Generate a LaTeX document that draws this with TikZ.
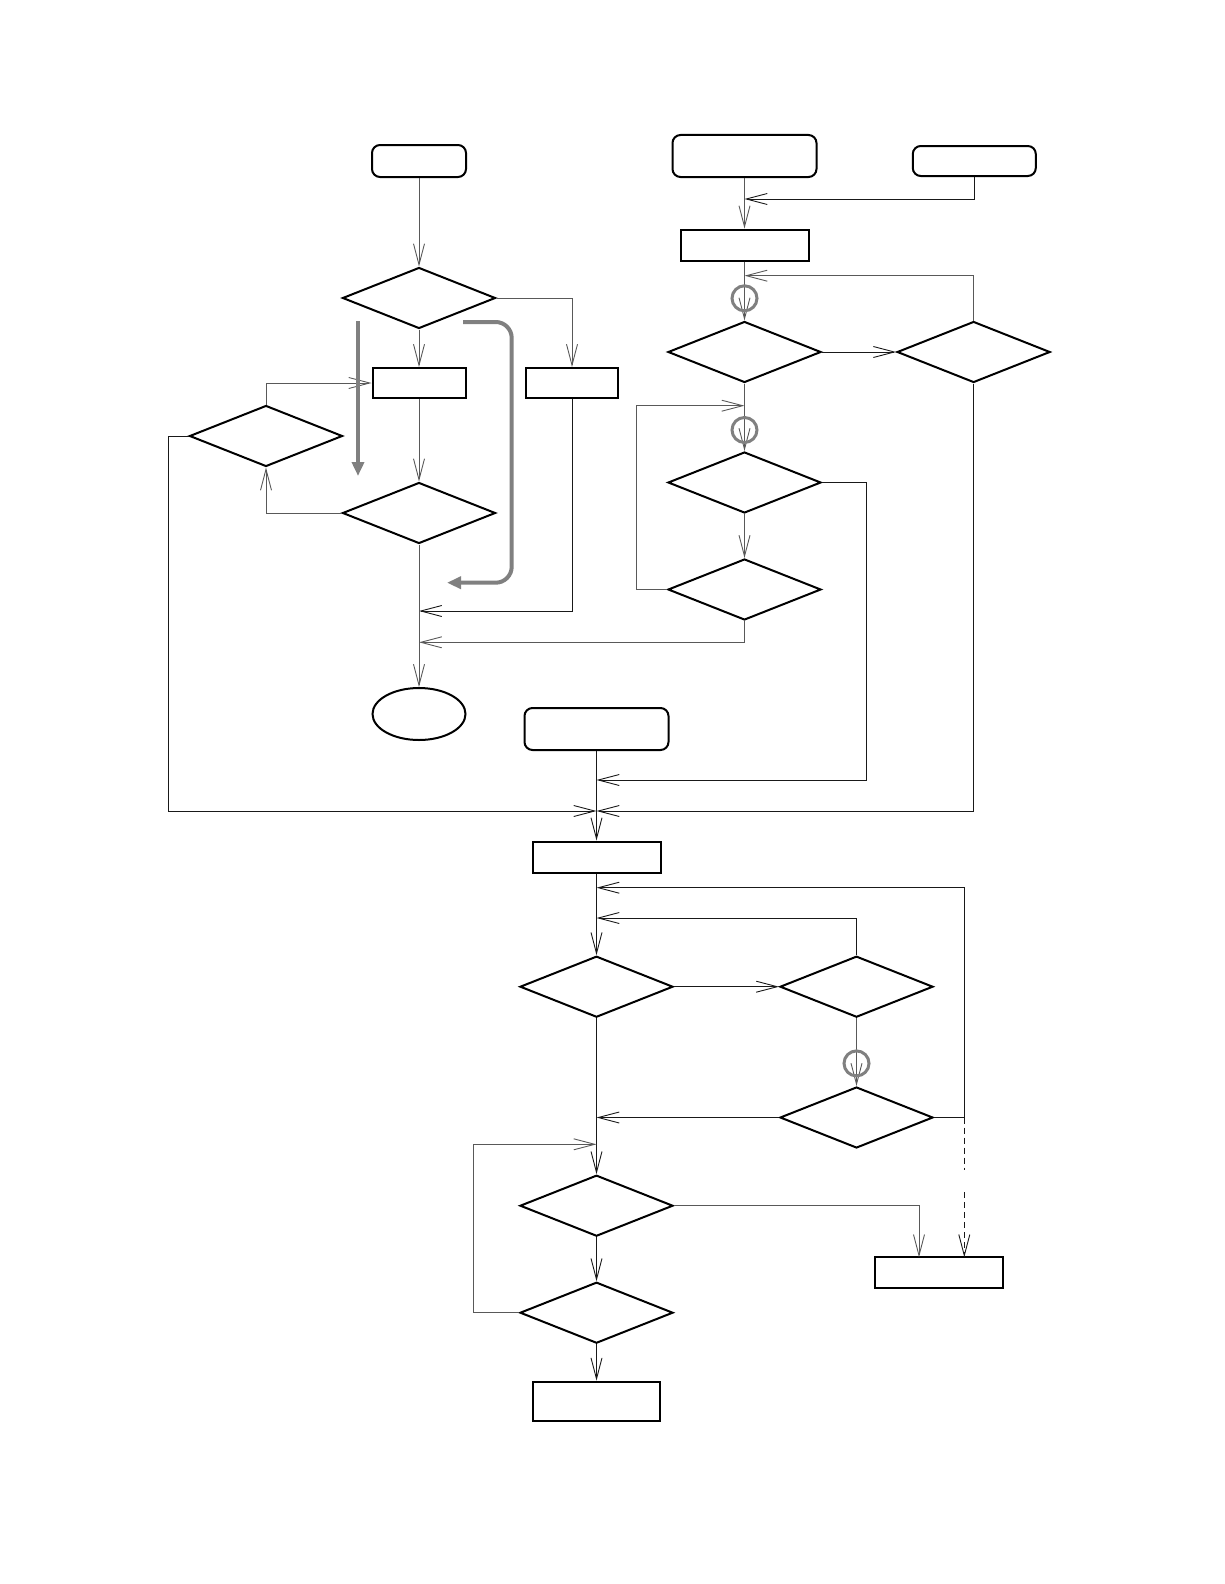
\documentclass[tikz,border=0pt]{standalone}
\usepackage{tikz}
\usetikzlibrary{arrows.meta,shapes.geometric}

\begin{document}
\begin{tikzpicture}[x=1pt,y=-1pt,>={Straight Barb[length=21pt,width=11pt]},
    dec/.style={draw,line width=2pt,diamond,minimum width=153pt,minimum height=61pt,inner sep=0pt},
    proc/.style={draw,line width=2pt,rectangle,inner sep=0pt},
    term/.style={draw,line width=2pt,rectangle,rounded corners=8pt,inner sep=0pt},
    conn/.style={line width=0.9pt,black!90},
    conng/.style={line width=0.9pt,black!65},
    ringmark/.style={draw=black!50,line width=3pt},
    flowarrow/.style={draw=black!50,line width=4pt,-{Triangle[length=14pt,width=12pt]}}]
      \useasboundingbox (0,0) rectangle (1224,1584);
      % left column
      \node[term,minimum width=94pt,minimum height=32pt] (start) at (419,161) {};
      \node[dec] (dA) at (419,298) {};
      \node[proc,minimum width=93pt,minimum height=30pt] (bD) at (419,383) {};
      \node[proc,minimum width=92pt,minimum height=30pt] (bG) at (572,383) {};
      \node[dec] (dE) at (266,436) {};
      \node[dec] (dF) at (419,513) {};
      \node[draw,line width=2pt,ellipse,minimum width=93pt,minimum height=52pt,inner sep=0pt] (stop) at (419,714) {};
      % right column
      \node[term,minimum width=144pt,minimum height=42pt] (tA) at (744.5,156) {};
      \node[term,minimum width=123pt,minimum height=30pt] (tB) at (974.3,161) {};
      \node[proc,minimum width=128pt,minimum height=31pt] (bC) at (744.5,245) {};
      \node[dec] (dH) at (744.5,352) {};
      \node[dec] (dI) at (973.6,352) {};
      \node[dec] (dJ) at (744.5,482.5) {};
      \node[dec] (dK) at (744.5,589.5) {};
      % lower column
      \node[term,minimum width=144pt,minimum height=42pt] (tL) at (596.5,729) {};
      \node[proc,minimum width=128pt,minimum height=31pt] (bM) at (596.5,857) {};
      \node[dec] (dN) at (596.5,986.7) {};
      \node[dec] (dO) at (856.5,986.7) {};
      \node[dec] (dP) at (856.5,1117.5) {};
      \node[dec] (dR) at (596.5,1205.7) {};
      \node[dec] (dS) at (596.5,1312.7) {};
      \node[proc,minimum width=128pt,minimum height=30.5pt] (bQ) at (939,1272.5) {};
      \node[proc,minimum width=127pt,minimum height=39.5pt] (bT) at (596.5,1401.4) {};
      % junctions
      \coordinate (j1) at (419,611);
      \coordinate (j2) at (419,642.3);
      \coordinate (j3) at (744.5,199);
      \coordinate (j4) at (744.5,275.7);
      \coordinate (j5) at (744.5,405.7);
      \coordinate (j6) at (596.5,780);
      \coordinate (mL) at (596.5,811);
      \coordinate (cW) at (168.3,811);
      \coordinate (cK) at (636.7,405.7);
      \coordinate (cJ) at (866.7,780);
      \coordinate (j7) at (596.5,887.7);
      \coordinate (j8) at (596.5,918);
      \coordinate (cP) at (964.3,887.7);
      \coordinate (j9) at (596.5,1117.5);
      \coordinate (j10) at (596.5,1144.3);
      \coordinate (cS) at (473.3,1144.3);
      \coordinate (qN1) at (919,1257.3);
      \coordinate (qN2) at (964.3,1257.3);
      % connectors, left
      \draw[conng,->] (start.south) -- (dA.north);
      \draw[conng,->] (dA.south) -- (bD.north);
      \draw[conng,->] (dA.east) -| (bG.north);
      \draw[conng,->] (bD.south) -- (dF.north);
      \draw[conng,->] (dF.west) -| (dE.south);
      \draw[conng,->] (dE.north) |- (bD.west);
      \draw[conn,->] (dE.west) -| (cW) -- (mL);
      \draw[conn,->] (bG.south) |- (j1);
      \draw[conng,->] (dF.south) -- (stop.north);
      \draw[conng,->] (dK.south) |- (j2);
      % connectors, right
      \draw[conng,->] (tA.south) -- (bC.north);
      \draw[conn,->] (tB.south) |- (j3);
      \draw[conng,->] (bC.south) -- (dH.north);
      \draw[conng,->] (dI.north) |- (j4);
      \draw[conn,->] (dH.east) -- (dI.west);
      \draw[conng,->] (dH.south) -- (dJ.north);
      \draw[conng,->] (dK.west) -| (cK) -- (j5);
      \draw[conng,->] (dJ.south) -- (dK.north);
      \draw[conn,->] (dJ.east) -| (cJ) -- (j6);
      \draw[conn,->] (dI.south) |- (mL);
      % connectors, lower
      \draw[conn,->] (tL.south) -- (bM.north);
      \draw[conn,->] (bM.south) -- (dN.north);
      \draw[conn,->] (dP.east) -| (cP) -- (j7);
      \draw[conn,->] (dO.north) |- (j8);
      \draw[conn,->] (dN.east) -- (dO.west);
      \draw[conng,->] (dO.south) -- (dP.north);
      \draw[conn,->] (dP.west) -- (j9);
      \draw[conn,->] (dN.south) -- (dR.north);
      \draw[conng,->] (dS.west) -| (cS) -- (j10);
      \draw[conn,->] (dR.south) -- (dS.north);
      \draw[conn,->] (dS.south) -- (bT.north);
      \draw[conng,->] (dR.east) -| (qN1);
      \draw[conn,dash pattern=on 6pt off 4pt] (cP |- dP.east) -- (964.3,1170);
      \draw[conn,dash pattern=on 6pt off 4pt,->] (964.3,1192.3) -- (qN2);
      % gray marks
      \draw[ringmark] (744.5,298.3) circle (12.5);
      \draw[ringmark] (744.5,430) circle (12.5);
      \draw[ringmark] (856.5,1063.4) circle (12.5);
      \draw[flowarrow] (358,321) -- (358,476);
      \draw[flowarrow,rounded corners=16pt] (463,322) -- (511.7,322) -- (511.7,582.7) -- (447,582.7);
    \end{tikzpicture}
\end{document}
